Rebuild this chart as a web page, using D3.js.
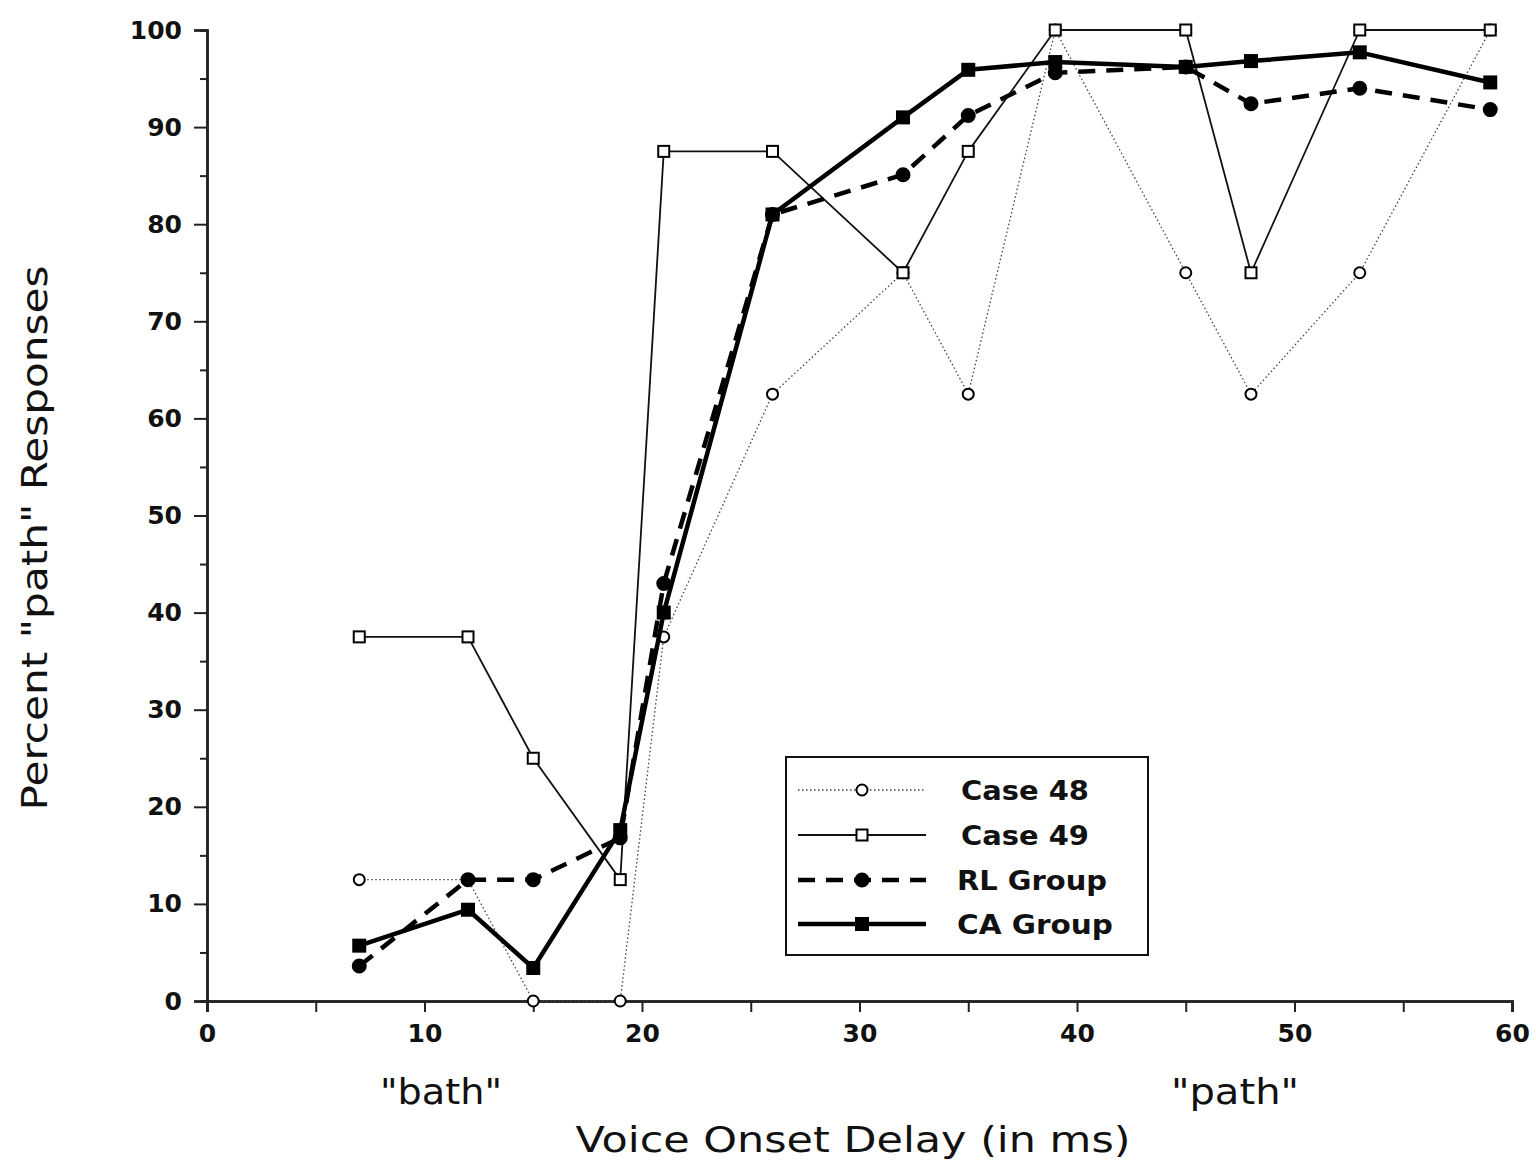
<!DOCTYPE html>
<html>
<head>
<meta charset="utf-8">
<script src="https://cdn.jsdelivr.net/npm/d3@7"></script>
<style>
  html, body { margin: 0; padding: 0; background: #fff; }
  svg { display: block; }
  text { font-family: "DejaVu Sans", Verdana, sans-serif; fill: #111; }
</style>
</head>
<body>
<script>
// Voice onset delay steps (ms)
const delays = [7, 12, 15, 19, 21, 26, 32, 35, 39, 45, 48, 53, 59];

// Percent "path" responses per series
const case48 = [12.5, 12.5, 0, 0, 37.5, 62.5, 75, 62.5, 100, 75, 62.5, 75, 100];
const case49 = [37.5, 37.5, 25, 12.5, 87.5, 87.5, 75, 87.5, 100, 100, 75, 100, 100];
const rlGroup = [3.6, 12.5, 12.5, 16.8, 43, 81, 85.1, 91.2, 95.6, 96.2, 92.4, 94.0, 91.8];
const caGroup = [5.7, 9.4, 3.4, 17.6, 40, 81, 91, 95.9, 96.7, 96.2, 96.8, 97.7, 94.6];

const seriesNames = ["Case 48", "Case 49", "RL Group", "CA Group"];
const xTicks = [0, 10, 20, 30, 40, 50, 60];
const yTicks = [0, 10, 20, 30, 40, 50, 60, 70, 80, 90, 100];

const W = 1536, H = 1162;
const svg = d3.select("body").append("svg").attr("width", W).attr("height", H);

const x = d3.scaleLinear().domain([0, 60]).range([207, 1512]);
const y = d3.scaleLinear().domain([0, 100]).range([1001, 30]);

// Axes
const yAxisMinor = d3.axisLeft(y).tickValues(d3.range(5, 100, 10)).tickSize(7).tickFormat("");
const yAxis = d3.axisLeft(y).tickValues(yTicks).tickSize(13).tickPadding(12);
const xAxisMinor = d3.axisBottom(x).tickValues(d3.range(5, 60, 10)).tickSize(11).tickFormat("");
const xAxis = d3.axisBottom(x).tickValues(xTicks).tickSize(11).tickPadding(12);

function styleAxis(g) {
  g.select(".domain").attr("stroke", "#222").attr("stroke-width", 2.5);
  g.selectAll(".tick line").attr("stroke", "#222").attr("stroke-width", 2);
  g.selectAll(".tick text")
    .style("font-family", '"DejaVu Sans", Verdana, sans-serif')
    .style("font-size", "25px").style("font-weight", "bold").attr("fill", "#111");
}

svg.append("g").attr("transform", `translate(${x(0)},0)`).call(yAxisMinor).call(styleAxis);
svg.append("g").attr("transform", `translate(${x(0)},0)`).call(yAxis).call(styleAxis);
svg.append("g").attr("transform", `translate(0,${y(0)})`).call(xAxisMinor).call(styleAxis);
svg.append("g").attr("transform", `translate(0,${y(0)})`).call(xAxis).call(styleAxis);

// Axis titles and endpoint labels
function label(txt, tx, ty, len, rotate) {
  const t = svg.append("text")
    .attr("text-anchor", "middle")
    .style("font-size", "35px")
    .attr("textLength", len).attr("lengthAdjust", "spacingAndGlyphs")
    .text(txt);
  if (rotate) t.attr("transform", `translate(${tx},${ty}) rotate(-90)`);
  else t.attr("x", tx).attr("y", ty);
}
label("Voice Onset Delay (in ms)", 853, 1152, 555, false);
label("\"bath\"", 441, 1104, 122, false);
label("\"path\"", 1235, 1104, 128, false);
label("Percent \"path\" Responses", 47, 538, 545, true);

// Series styles
const styles = [
  { values: case48, width: 1.3, dash: "1.5,2.5", color: "#444", marker: "circle", fill: "#fff", size: 5.5 },
  { values: case49, width: 1.8, dash: null, color: "#111", marker: "square", fill: "#fff", size: 11 },
  { values: rlGroup, width: 4.5, dash: "17,11", color: "#000", marker: "circle", fill: "#000", size: 6.5 },
  { values: caGroup, width: 4.5, dash: null, color: "#000", marker: "square", fill: "#000", size: 12 }
];

const line = d3.line().x(d => x(d[0])).y(d => y(d[1]));

function drawMarker(g, s, cx, cy) {
  if (s.marker === "circle") {
    g.append("circle").attr("cx", cx).attr("cy", cy).attr("r", s.size)
      .attr("fill", s.fill).attr("stroke", "#000").attr("stroke-width", 2);
  } else {
    g.append("rect").attr("x", cx - s.size / 2).attr("y", cy - s.size / 2)
      .attr("width", s.size).attr("height", s.size)
      .attr("fill", s.fill).attr("stroke", "#000").attr("stroke-width", 2);
  }
}

const plot = svg.append("g");
styles.forEach(s => {
  const pts = delays.map((d, i) => [d, s.values[i]]);
  const g = plot.append("g");
  g.append("path").attr("d", line(pts)).attr("fill", "none")
    .attr("stroke", s.color).attr("stroke-width", s.width)
    .attr("stroke-linejoin", "round")
    .attr("stroke-dasharray", s.dash);
  pts.forEach(p => drawMarker(g, s, x(p[0]), y(p[1])));
});

// Legend
const lg = svg.append("g").attr("transform", "translate(786,757)");
lg.append("rect").attr("width", 362).attr("height", 198)
  .attr("fill", "#fff").attr("stroke", "#111").attr("stroke-width", 2);
const rowY = [33, 78, 123, 167];
const nameLen = [128, 128, 150, 156];
styles.forEach((s, i) => {
  const ry = rowY[i];
  lg.append("line").attr("x1", 12).attr("x2", 140).attr("y1", ry).attr("y2", ry)
    .attr("stroke", s.color).attr("stroke-width", s.width)
    .attr("stroke-dasharray", s.dash);
  drawMarker(lg, s, 76, ry);
  lg.append("text").attr("x", i < 2 ? 175 : 171).attr("y", ry + 10)
    .style("font-size", "26px").style("font-weight", "bold")
    .attr("textLength", nameLen[i]).attr("lengthAdjust", "spacingAndGlyphs")
    .text(seriesNames[i]);
});
</script>
</body>
</html>
